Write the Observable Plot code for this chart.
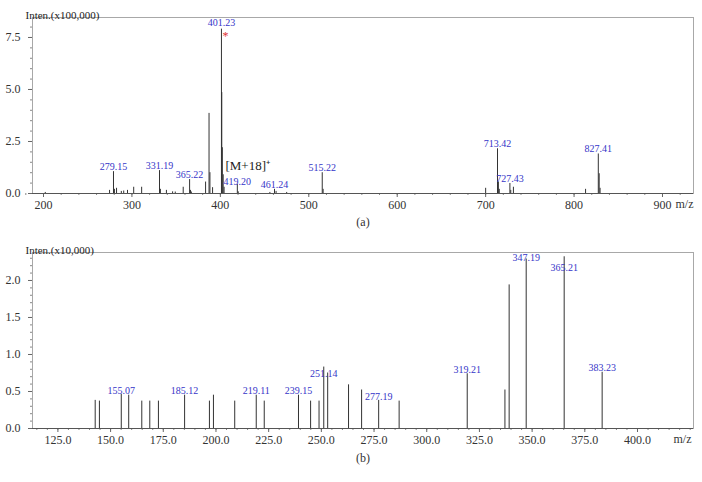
<!DOCTYPE html>
<html><head><meta charset="utf-8">
<script src="https://cdn.jsdelivr.net/npm/d3@7"></script>
<script src="https://cdn.jsdelivr.net/npm/@observablehq/plot@0.6"></script>
<style>
body{margin:0;background:#fff;}
#chart{width:702px;}
#chart svg{display:block;}
</style>
</head><body><div id="chart"></div>
<script>
// Panel (a): MS spectrum, intensity x100,000
const mzA  = [202, 274.7, 279.15, 280.2, 282.6, 288, 290.7, 295, 302, 311, 331.19, 332.2, 339, 346, 349, 358,
              365.22, 366.2, 367.2, 383.3, 387.2, 388.2, 391.2, 401.23, 401.6, 402.23, 403.2, 404.2, 419.20, 420.2,
              456, 461.24, 463, 475, 515.22, 516.2, 700, 713.42, 714.42, 715.4, 727.43, 728.4, 731.4, 813,
              827.41, 828.4, 829.4];
const intA = [0.05, 0.15, 1.05, 0.2, 0.25, 0.1, 0.12, 0.15, 0.3, 0.3, 1.1, 0.2, 0.15, 0.08, 0.07, 0.3,
              0.67, 0.15, 0.07, 0.55, 3.85, 1.0, 0.28, 7.9, 4.85, 2.2, 0.9, 0.3, 0.43, 0.08,
              0.05, 0.2, 0.1, 0.05, 1.0, 0.2, 0.25, 2.15, 0.55, 0.2, 0.48, 0.15, 0.3, 0.2,
              1.9, 0.95, 0.25];
const labelMzA = [279.15, 331.19, 365.22, 401.23, 419.20, 461.24, 515.22, 713.42, 727.43, 827.41];
const xTicksA = [200, 300, 400, 500, 600, 700, 800, 900];
const yTicksA = [0, 2.5, 5.0, 7.5];

// Panel (b): MS/MS spectrum, intensity x10,000
const mzB  = [142.7, 144.7, 155.07, 158.6, 164.8, 168.6, 172.7, 185.12, 196.9, 198.8, 208.9, 219.11, 222.9,
              239.15, 244.9, 248.9, 251.14, 253.0, 262.9, 269.1, 277.19, 286.9, 319.21, 337.1, 339.1,
              347.19, 365.21, 383.23];
const intB = [0.38, 0.37, 0.46, 0.45, 0.37, 0.37, 0.37, 0.45, 0.37, 0.45, 0.37, 0.45, 0.37,
              0.45, 0.37, 0.37, 0.83, 0.75, 0.59, 0.52, 0.38, 0.37, 0.74, 0.52, 1.94,
              2.29, 2.32, 0.76];
const labelMzB = [155.07, 185.12, 219.11, 239.15, 251.14, 277.19, 319.21, 347.19, 365.21, 383.23];
const xTicksB = [125, 150, 175, 200, 225, 250, 275, 300, 325, 350, 375, 400];
const yTicksB = [0, 0.5, 1.0, 1.5, 2.0];

const yTitles = ["Inten.(x100,000)", "Inten.(x10,000)"];
const panelTags = ["(a)", "(b)"];
const ionNote = "[M+18]\u207A";
const xUnit = "m/z";

const peaksA = mzA.map((mz, i) => ({mz, i: intA[i]}));
const peaksB = mzB.map((mz, i) => ({mz, i: intB[i]}));
const labA = peaksA.filter(d => labelMzA.includes(d.mz));
const labB = peaksB.filter(d => labelMzB.includes(d.mz));

const blue = "#3535c8";
const font = "'Liberation Serif', 'Times New Roman', serif";

function panel({peaks, xDomain, yDomain, xTicks, xMinor, yTicks, yMinor, xFmt, height, marginTop, marginBottom, title, tag, tagDy, unitDx, extra}) {
  return Plot.plot({
    width: 702, height, marginLeft: 32, marginRight: 9, marginTop, marginBottom,
    style: {fontFamily: font, fontSize: "12px", color: "#333", background: "#fff"},
    x: {domain: xDomain, label: null},
    y: {domain: yDomain, label: null},
    marks: [
      Plot.frame({stroke: "#a8a8a8"}),
      Plot.axisY({ticks: yMinor, tickSize: 2, tickFormat: () => "", stroke: "#888", label: null}),
      Plot.axisY({ticks: yTicks, tickSize: 4, tickPadding: 8, tickFormat: d3.format(".1f"), label: null, stroke: "#666", fontSize: 12, fontFamily: font}),
      Plot.axisX({ticks: xMinor, tickSize: 2, tickFormat: () => "", stroke: "#888", label: null}),
      Plot.axisX({ticks: xTicks, tickSize: 4, tickPadding: 3, tickFormat: xFmt, label: null, stroke: "#666", fontSize: 12, fontFamily: font}),
      Plot.ruleX(peaks, {x: "mz", y1: 0, y2: "i", stroke: "#333", strokeWidth: 1}),
      Plot.ruleY([0], {stroke: "#555"}),
      ...extra,
      Plot.text([title], {text: d => d, frameAnchor: "top-left", dx: -7, dy: -6, textAnchor: "start", fontSize: 11, fill: "#222", fontFamily: font}),
      Plot.text([xUnit], {text: d => d, frameAnchor: "bottom-right", dx: unitDx, dy: 14, textAnchor: "end", fontSize: 12, fill: "#333", fontFamily: font}),
      Plot.text([tag], {text: d => d, frameAnchor: "bottom", dy: tagDy, fontSize: 12, fill: "#333", fontFamily: font})
    ]
  });
}

const lab = (data, dy) => Plot.text(data, {x: "mz", y: "i", text: d => d.mz.toFixed(2), dy, fill: blue, fontSize: 10, fontFamily: font});

const mainA = labA.filter(d => d.mz === 401.23);
const chartA = panel({
  peaks: peaksA,
  xDomain: [187.56, 935.06], yDomain: [0, 8.46],
  xTicks: xTicksA, xMinor: d3.range(180, 940, 20), yTicks: yTicksA, yMinor: d3.range(0, 8.4, 0.5),
  xFmt: d3.format("d"), height: 232, marginTop: 17, marginBottom: 39,
  title: yTitles[0], tag: panelTags[0], tagDy: 32, unitDx: 0,
  extra: [
    lab(labA.filter(d => d.mz !== 401.23 && d.mz !== 419.20), -5),
    lab(labA.filter(d => d.mz === 419.20), -3),
    lab(mainA, -6),
    Plot.text(mainA, {x: "mz", y: "i", text: () => "*", dx: 4, dy: 7, fill: "#e03030", fontSize: 12, fontFamily: font}),
    Plot.text(mainA, {x: "mz", y: 0, text: () => ionNote, dx: 4, dy: -28, textAnchor: "start", fontSize: 13, fill: "#222", fontFamily: font})
  ]
});

const chartB = panel({
  peaks: peaksB,
  xDomain: [112.95, 426.57], yDomain: [0, 2.378],
  xTicks: xTicksB, xMinor: d3.range(115, 430, 5), yTicks: yTicksB, yMinor: d3.range(0, 2.38, 0.1),
  xFmt: d3.format(".1f"), height: 250, marginTop: 20, marginBottom: 54,
  title: yTitles[1], tag: panelTags[1], tagDy: 33, unitDx: -2,
  extra: [
    lab(labB.filter(d => ![251.14, 347.19, 365.21].includes(d.mz)), -4),
    lab(labB.filter(d => d.mz === 251.14), 7),
    lab(labB.filter(d => d.mz === 347.19), -1),
    lab(labB.filter(d => d.mz === 365.21), 11)
  ]
});

document.getElementById("chart").append(chartA, chartB);
</script>
</body></html>
